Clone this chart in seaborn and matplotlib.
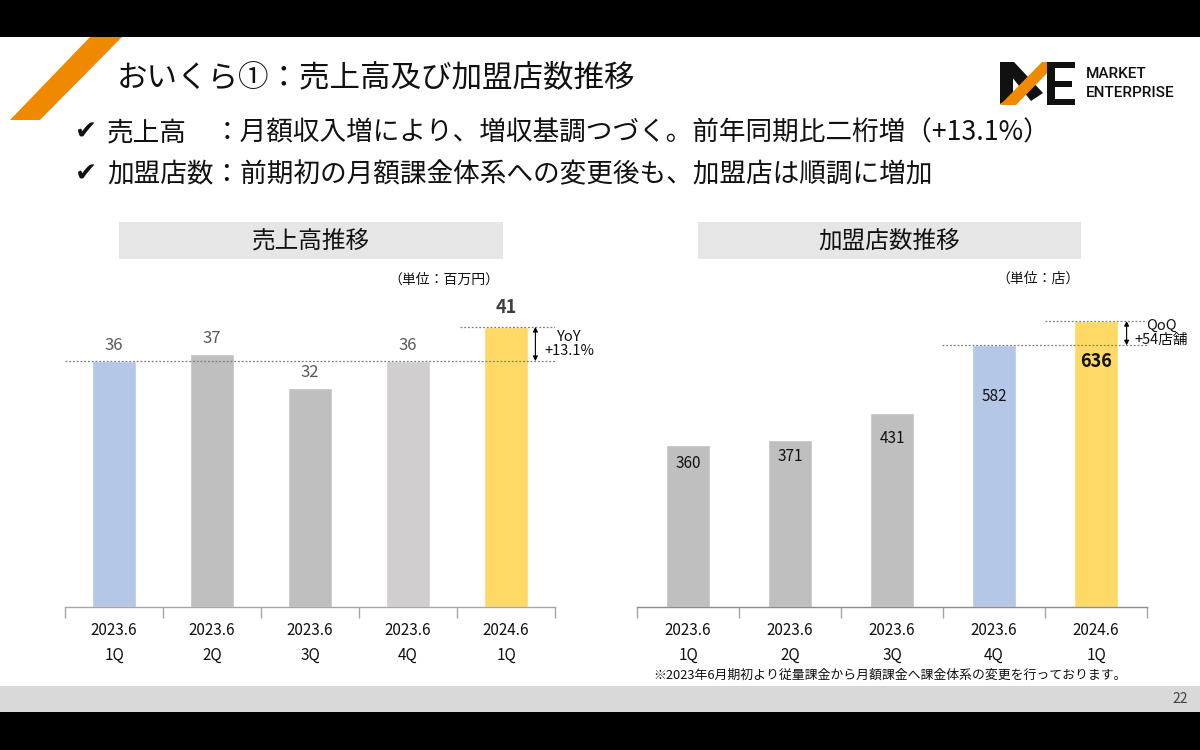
import matplotlib
matplotlib.use('Agg')
import matplotlib.pyplot as plt
import seaborn as sns
import pandas as pd
from matplotlib.patches import Rectangle, Polygon

# ---------------- data ----------------
quarters = ["2023.6\n1Q", "2023.6\n2Q", "2023.6\n3Q", "2023.6\n4Q", "2024.6\n1Q"]
sales = [36, 37, 32, 36, 41]            # 売上高 (百万円)
stores = [360, 371, 431, 582, 636]      # 加盟店数 (店)
sales_colors = ["#B4C7E7", "#BFBFBF", "#BFBFBF", "#D0CECE", "#FFD966"]
store_colors = ["#BFBFBF", "#BFBFBF", "#BFBFBF", "#B4C7E7", "#FFD966"]
yoy_text = "YoY\n+13.1%"
qoq_text = "QoQ\n+54店舗"

# ---------------- style ----------------
sns.set_style('white')
plt.rcParams['font.family'] = ['Noto Sans CJK JP', 'DejaVu Sans']

W, H = 1200, 750
fig = plt.figure(figsize=(12, 7.5), dpi=100)
fig.patch.set_facecolor('white')


def fx(x):
    return x / W


def fy(y):
    return 1 - y / H


def rect_px(x0, y0, x1, y1, color, z=0):
    fig.patches.append(Rectangle((fx(x0), fy(y1)), (x1 - x0) / W, (y1 - y0) / H,
                                 transform=fig.transFigure, facecolor=color,
                                 edgecolor='none', zorder=z))


def poly_px(pts, color, z=1):
    fig.patches.append(Polygon([(fx(x), fy(y)) for x, y in pts], closed=True,
                               transform=fig.transFigure, facecolor=color,
                               edgecolor='none', zorder=z))


# slide decorations
rect_px(0, 0, 1200, 37, 'black')
rect_px(0, 686, 1200, 712, '#D9D9D9')
rect_px(0, 712, 1200, 750, 'black')
poly_px([(90, 37), (122, 37), (40, 120), (10, 120)], '#EF8A00')

# logo
poly_px([(1000, 62), (1013, 62), (1013, 97), (1000, 104)], '#111111')
poly_px([(1000, 62), (1014, 62), (1043, 93), (1031, 101)], '#111111')
poly_px([(1000, 105), (1016, 105), (1058, 62), (1042, 62)], '#EF8A00', z=2)
poly_px([(1047, 62), (1055, 62), (1055, 105), (1047, 105)], '#111111', z=3)
poly_px([(1047, 62), (1075, 62), (1075, 68), (1047, 68)], '#111111', z=3)
poly_px([(1051, 81), (1072, 81), (1072, 87), (1051, 87)], '#111111', z=3)
poly_px([(1047, 99), (1075, 99), (1075, 105), (1047, 105)], '#111111', z=3)
fig.text(fx(1086), fy(74), "MARKET", fontsize=11, family=['Roboto', 'DejaVu Sans'],
         fontweight='medium', va='center', ha='left', color='#111111')
fig.text(fx(1086), fy(93), "ENTERPRISE", fontsize=11, family=['Roboto', 'DejaVu Sans'],
         fontweight='medium', va='center', ha='left', color='#111111')

# header texts
fig.text(fx(117), fy(78), "おいくら①：売上高及び加盟店数推移", fontsize=22,
         va='center', ha='left', color='#111111')
fs_b = 19.2
pitch = fs_b * 100 / 72
fig.text(fx(75), fy(133), "✔", fontsize=19, va='center', ha='left',
         family=['DejaVu Sans'], color='#111111')
fig.text(fx(107), fy(133), "売上高", fontsize=fs_b, va='center', ha='left', color='#111111')
fig.text(fx(107 + 4 * pitch), fy(133), "：月額収入増により、増収基調つづく。前年同期比二桁増（+13.1%）",
         fontsize=fs_b, va='center', ha='left', color='#111111')
fig.text(fx(75), fy(175), "✔", fontsize=19, va='center', ha='left',
         family=['DejaVu Sans'], color='#111111')
fig.text(fx(107), fy(175), "加盟店数：前期初の月額課金体系への変更後も、加盟店は順調に増加",
         fontsize=fs_b, va='center', ha='left', color='#111111')

# chart title boxes
rect_px(119, 222, 503, 259, '#E7E6E6')
rect_px(698, 222, 1081, 259, '#E7E6E6')
fig.text(fx(311), fy(241), "売上高推移", fontsize=17, ha='center', va='center', color='#111111')
fig.text(fx(889.5), fy(241), "加盟店数推移", fontsize=17, ha='center', va='center', color='#111111')
fig.text(fx(444), fy(280), "（単位：百万円）", fontsize=10, ha='center', va='center', color='#111111')
fig.text(fx(1038), fy(279), "（単位：店）", fontsize=10, ha='center', va='center', color='#111111')

fig.text(fx(890), fy(675), "※2023年6月期初より従量課金から月額課金へ課金体系の変更を行っております。",
         fontsize=9.3, ha='center', va='center', color='#111111')
fig.text(fx(1180), fy(699), "22", fontsize=10, ha='center', va='center', color='#404040')


def style_axis(ax, ymax):
    ax.set_ylim(0, ymax)
    ax.set_xlim(-0.5, len(quarters) - 0.5)
    ax.set_facecolor('none')
    for s in ['left', 'top', 'right']:
        ax.spines[s].set_visible(False)
    ax.spines['bottom'].set_color('#A6A6A6')
    ax.spines['bottom'].set_linewidth(1)
    ax.set_yticks([])
    ax.set_xticks(range(len(quarters)))
    ax.set_xticklabels(quarters)
    ax.set_xticks([i - 0.5 for i in range(len(quarters) + 1)], minor=True)
    ax.tick_params(axis='x', which='major', length=0, pad=11, labelsize=11, bottom=True,
                   labelcolor='#111111')
    ax.tick_params(axis='x', which='minor', length=8, width=1, color='#A6A6A6',
                   direction='out', bottom=True)
    for lbl in ax.get_xticklabels():
        lbl.set_linespacing(1.55)
    ax.set_xlabel('')
    ax.set_ylabel('')


dot = dict(color='#7F7F7F', lw=0.9, linestyle=(0, (1.5, 1.5)))
arrow = dict(arrowstyle='<|-|>', color='black', lw=0.8, mutation_scale=7,
             shrinkA=0, shrinkB=0)

# ---------------- left chart: 売上高 ----------------
ax1 = fig.add_axes([fx(65), fy(607), 490 / W, 317 / H])
df1 = pd.DataFrame({'q': quarters, 'v': sales})
sns.barplot(data=df1, x='q', y='v', hue='q', palette=sales_colors, legend=False,
            width=0.44, saturation=1, ax=ax1, order=quarters, hue_order=quarters)
style_axis(ax1, 46.4)
for i, v in enumerate(sales):
    last = i == len(sales) - 1
    ax1.annotate(str(v), xy=(i, v), xytext=(0, 14 if last else 11.5), textcoords='offset points',
                 ha='center', va='center', fontsize=13 if last else 12,
                 fontweight='bold' if last else 'normal',
                 color='#404040' if last else '#595959')
ax1.hlines(sales[0], -0.5, 4.5, **dot)
ax1.hlines(sales[4], 3.53, 4.5, **dot)
ax1.annotate('', xy=(4.3, sales[4]), xytext=(4.3, sales[0]), arrowprops=arrow,
             annotation_clip=False)
ax1.text(4.65, (sales[0] + sales[4]) / 2, yoy_text, ha='center', va='center',
         fontsize=10.5, linespacing=1.05, color='#111111')

# ---------------- right chart: 加盟店数 ----------------
ax2 = fig.add_axes([fx(637), fy(607), 510 / W, 317 / H])
df2 = pd.DataFrame({'q': quarters, 'v': stores})
sns.barplot(data=df2, x='q', y='v', hue='q', palette=store_colors, legend=False,
            width=0.43, saturation=1, ax=ax2, order=quarters, hue_order=quarters)
style_axis(ax2, 705)
ax2.spines['bottom'].set_color('#8C8C8C')
inside_off = [-13, -11.5, -18, -37, -29]   # label offsets in points (style)
for i, v in enumerate(stores):
    last = i == len(stores) - 1
    ax2.annotate(str(v), xy=(i, v), xytext=(0, inside_off[i]), textcoords='offset points',
                 ha='center', va='center', fontsize=13 if last else 11,
                 fontweight='bold' if last else 'normal', color='#111111')
ax2.hlines(stores[3], 2.49, 4.5, **dot)
ax2.hlines(stores[4], 3.5, 4.5, **dot)
ax2.annotate('', xy=(4.3, stores[4]), xytext=(4.3, stores[3]), arrowprops=arrow,
             annotation_clip=False)
ax2.text(4.64, (stores[3] + stores[4]) / 2, qoq_text, ha='center', va='center',
         fontsize=10.5, linespacing=1.0, color='#111111')

fig.savefig('out.png', dpi=100)
